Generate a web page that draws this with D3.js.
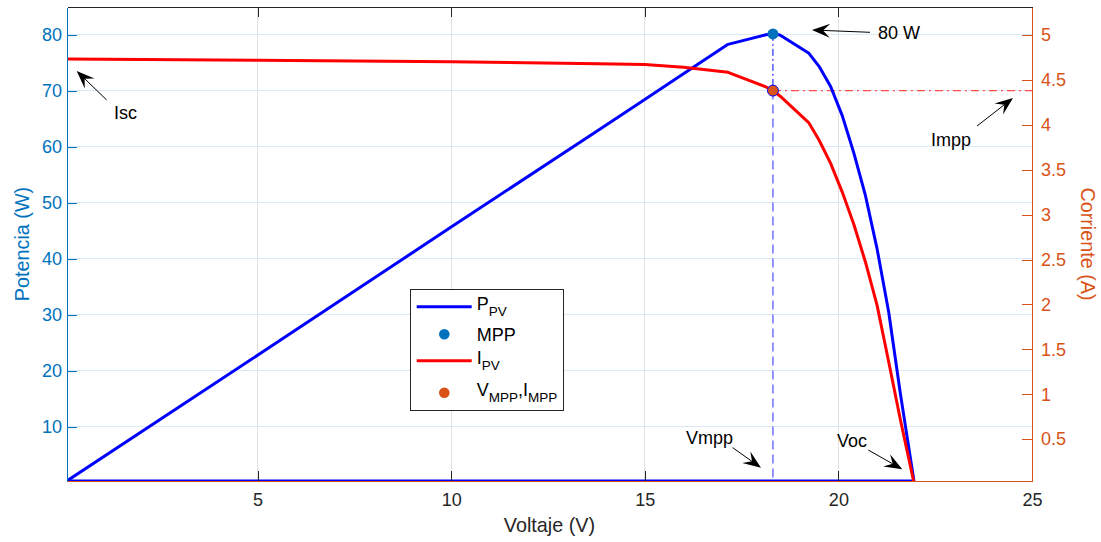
<!DOCTYPE html>
<html>
<head>
<meta charset="utf-8">
<script src="https://cdn.jsdelivr.net/npm/d3@7/dist/d3.min.js"></script>
<style>
  html, body { margin: 0; padding: 0; background: #fff; }
  svg { display: block; font-family: "Liberation Sans", Arial, Helvetica, sans-serif; }
</style>
</head>
<body>
<svg id="chart" width="1101" height="542"></svg>
<script>
// PV module sweep: voltage (V), power (W) and current (A)
const voltage = [0.08, 5, 10, 13.8, 15, 16, 17.15, 18.13, 18.31, 18.49, 19.24, 19.5, 19.8, 20.1, 20.4, 20.7, 21.0, 21.3, 21.6, 21.96];
const power   = [0.37, 22.8, 45.7, 63.0, 68.5, 73.1, 78.33, 80.05, 80.2, 79.99, 76.73, 74.4, 70.8, 65.6, 58.9, 51.3, 41.8, 30.5, 16.0, 0];
const current = [4.731, 4.718, 4.700, 4.679, 4.670, 4.639, 4.583, 4.42, 4.38, 4.32, 4.02, 3.83, 3.57, 3.25, 2.89, 2.47, 1.99, 1.36, 0.72, 0];

// Maximum power point
const mppVoltage = 18.31;
const mppPower = 80.2;
const mppCurrent = 4.38;

// Axis limits and ticks
const voltageLimits = [0.08, 25];
const powerLimits = [0.35, 85];
const currentLimits = [0.035, 5.31];
const voltageTicks = [5, 10, 15, 20, 25];
const powerTicks = [10, 20, 30, 40, 50, 60, 70, 80];
const currentTicks = [0.5, 1, 1.5, 2, 2.5, 3, 3.5, 4, 4.5, 5];

// Text annotations with arrows
const annotationText = ["80 W", "Isc", "Impp", "Vmpp", "Voc"];

const C = {
  left: "#0072BD", right: "#D95319", axis: "#262626",
  pLine: "#0000FF", iLine: "#FF0000",
  gridP: "#dae9f5", gridX: "#e1e1e1"
};

const svg = d3.select("#chart");
const plot = { l: 67, r: 1032, t: 7, b: 481 };

const x = d3.scaleLinear().domain(voltageLimits).range([plot.l, plot.r]);
const yP = d3.scaleLinear().domain(powerLimits).range([plot.b, plot.t]);
const yI = d3.scaleLinear().domain(currentLimits).range([plot.b, plot.t]);

svg.append("defs").append("clipPath").attr("id", "clip")
  .append("rect").attr("x", plot.l).attr("y", plot.t)
  .attr("width", plot.r - plot.l).attr("height", plot.b - plot.t);

// Grid
const grid = svg.append("g");
grid.selectAll(".gx").data(voltageTicks.filter(v => v < voltageLimits[1])).join("line")
  .attr("x1", d => x(d)).attr("x2", d => x(d))
  .attr("y1", plot.t).attr("y2", plot.b)
  .attr("stroke", C.gridX).attr("stroke-width", 1).attr("shape-rendering", "crispEdges");
grid.selectAll(".gy").data(powerTicks).join("line")
  .attr("x1", plot.l).attr("x2", plot.r)
  .attr("y1", d => yP(d)).attr("y2", d => yP(d))
  .attr("stroke", C.gridP).attr("stroke-width", 1).attr("shape-rendering", "crispEdges");

const layer = svg.append("g").attr("clip-path", "url(#clip)");

// Zero-power baseline from start of sweep to open circuit
layer.append("line")
  .attr("x1", x(voltage[0])).attr("x2", x(voltage[voltage.length - 1]))
  .attr("y1", yP(powerLimits[0])).attr("y2", yP(powerLimits[0]))
  .attr("stroke", C.pLine).attr("stroke-width", 3);

// MPP guide lines
layer.append("line")
  .attr("x1", x(mppVoltage)).attr("x2", x(mppVoltage))
  .attr("y1", yP(mppPower)).attr("y2", yI(mppCurrent))
  .attr("stroke", C.pLine).attr("stroke-width", 1)
  .attr("stroke-dasharray", "7,3,2,3");
layer.append("line")
  .attr("x1", x(mppVoltage)).attr("x2", x(mppVoltage))
  .attr("y1", yI(mppCurrent)).attr("y2", yP(powerLimits[0]))
  .attr("stroke", "#4d4dff").attr("stroke-width", 1.2)
  .attr("stroke-dasharray", "9,5");
layer.append("line")
  .attr("x1", x(mppVoltage)).attr("x2", x(voltageLimits[1]))
  .attr("y1", yI(mppCurrent)).attr("y2", yI(mppCurrent))
  .attr("stroke", "#ff4d4d").attr("stroke-width", 1.2)
  .attr("stroke-dasharray", "8,4,2,4");

// Curves
const lineP = d3.line().x((d, i) => x(voltage[i])).y(d => yP(d));
const lineI = d3.line().x((d, i) => x(voltage[i])).y(d => yI(d));
layer.append("path").datum(power).attr("d", lineP)
  .attr("fill", "none").attr("stroke", C.pLine).attr("stroke-width", 3).attr("stroke-linejoin", "round");
layer.append("path").datum(current).attr("d", lineI)
  .attr("fill", "none").attr("stroke", C.iLine).attr("stroke-width", 3).attr("stroke-linejoin", "round");

// MPP markers
svg.append("circle").attr("cx", x(mppVoltage)).attr("cy", yP(mppPower)).attr("r", 5.5)
  .attr("fill", C.left);
svg.append("circle").attr("cx", x(mppVoltage)).attr("cy", yI(mppCurrent)).attr("r", 5.5)
  .attr("fill", C.right).attr("stroke", C.pLine).attr("stroke-width", 1);

// Axes
const fontTick = 18, fontLabel = 19.8;
function styleAxis(g, color) {
  g.select(".domain").attr("stroke", color).attr("stroke-width", 1);
  g.selectAll(".tick line").attr("stroke", color).attr("stroke-width", 1);
  g.selectAll(".tick text").attr("fill", color).attr("font-size", fontTick)
    .attr("font-family", "Liberation Sans, Arial, sans-serif");
  g.attr("shape-rendering", "crispEdges");
}
const fmt = d3.format("~g");

svg.append("g").attr("transform", `translate(0,${plot.t})`)
  .call(d3.axisTop(x).tickValues(voltageTicks).tickSizeInner(-10).tickSizeOuter(0).tickFormat(""))
  .call(g => styleAxis(g, C.axis));

svg.append("g").attr("transform", `translate(0,${plot.b})`)
  .call(d3.axisBottom(x).tickValues(voltageTicks).tickFormat(fmt).tickSizeInner(-10).tickSizeOuter(0).tickPadding(12))
  .call(g => { styleAxis(g, C.axis); g.select(".domain").attr("stroke", C.right); });

svg.append("g").attr("transform", `translate(${plot.l},0)`)
  .call(d3.axisLeft(yP).tickValues(powerTicks).tickFormat(fmt).tickSizeInner(-10).tickSizeOuter(0).tickPadding(5))
  .call(g => styleAxis(g, C.left));

svg.append("g").attr("transform", `translate(${plot.r},0)`)
  .call(d3.axisRight(yI).tickValues(currentTicks).tickFormat(fmt).tickSizeInner(-10).tickSizeOuter(0).tickPadding(9))
  .call(g => styleAxis(g, C.right));

// Axis titles
svg.append("text").attr("x", (plot.l + plot.r) / 2).attr("y", 532)
  .attr("text-anchor", "middle").attr("font-size", fontLabel).attr("fill", C.axis)
  .text("Voltaje (V)");
svg.append("text").attr("transform", `translate(29,${(plot.t + plot.b) / 2}) rotate(-90)`)
  .attr("text-anchor", "middle").attr("font-size", fontLabel).attr("fill", C.left)
  .text("Potencia (W)");
svg.append("text").attr("transform", `translate(1081,${(plot.t + plot.b) / 2}) rotate(90)`)
  .attr("text-anchor", "middle").attr("font-size", fontLabel).attr("fill", C.right)
  .text("Corriente (A)");

// Text arrows: [tailX, tailY, tipX, tipY, textX, textY]
const arrowGeom = [
  [870, 32.3, 812, 30, 878, 32.3],
  [106.7, 100, 76.7, 71, 114, 113],
  [977, 126, 1013, 98, 931, 140],
  [732.7, 447.7, 761, 467.7, 686, 438],
  [868.3, 450, 902.3, 469.3, 837, 440.7]
];
const ann = svg.append("g");
annotationText.forEach((t, k) => {
  const [x1, y1, x2, y2, tx, ty] = arrowGeom[k];
  const ang = Math.atan2(y2 - y1, x2 - x1);
  const L = 18, W = 14, N = 11;
  ann.append("line").attr("x1", x1).attr("y1", y1)
    .attr("x2", x2 - Math.cos(ang) * N).attr("y2", y2 - Math.sin(ang) * N)
    .attr("stroke", "#000").attr("stroke-width", 1);
  const pts = [[0, 0], [-L, W / 2], [-N, 0], [-L, -W / 2]].map(([u, v]) => [
    x2 + u * Math.cos(ang) - v * Math.sin(ang),
    y2 + u * Math.sin(ang) + v * Math.cos(ang)
  ]);
  ann.append("polygon").attr("points", pts.map(p => p.join(",")).join(" ")).attr("fill", "#000");
  ann.append("text").attr("x", tx).attr("y", ty).attr("dy", "0.35em")
    .attr("font-size", 18).attr("fill", "#000").text(t);
});

// Legend
const lg = svg.append("g");
lg.append("rect").attr("x", 410.5).attr("y", 289.5).attr("width", 153).attr("height", 121)
  .attr("fill", "#fff").attr("stroke", C.axis).attr("stroke-width", 1);
const legendRows = [
  { y: 306.7, kind: "line", color: C.pLine, main: "P", sub: "PV" },
  { y: 334.3, kind: "dot", color: C.left, main: "MPP" },
  { y: 360.7, kind: "line", color: C.iLine, main: "I", sub: "PV" },
  { y: 392.7, kind: "dot", color: C.right, main: "V", sub: "MPP", main2: ",I", sub2: "MPP" }
];
legendRows.forEach(r => {
  if (r.kind === "line") {
    lg.append("line").attr("x1", 416.7).attr("x2", 471.7).attr("y1", r.y).attr("y2", r.y)
      .attr("stroke", r.color).attr("stroke-width", 3);
  } else {
    lg.append("circle").attr("cx", 444.3).attr("cy", r.y).attr("r", 5.3).attr("fill", r.color);
  }
  const txt = lg.append("text").attr("x", 476.7).attr("y", r.sub ? r.y + 3 : r.y + 6.5)
    .attr("font-size", 18).attr("fill", "#000");
  txt.append("tspan").text(r.main);
  if (r.sub) txt.append("tspan").attr("font-size", 13.5).attr("dy", 6).text(r.sub);
  if (r.main2) {
    txt.append("tspan").attr("font-size", 18).attr("dy", -6).text(r.main2);
    txt.append("tspan").attr("font-size", 13.5).attr("dy", 6).text(r.sub2);
  }
});
</script>
</body>
</html>
